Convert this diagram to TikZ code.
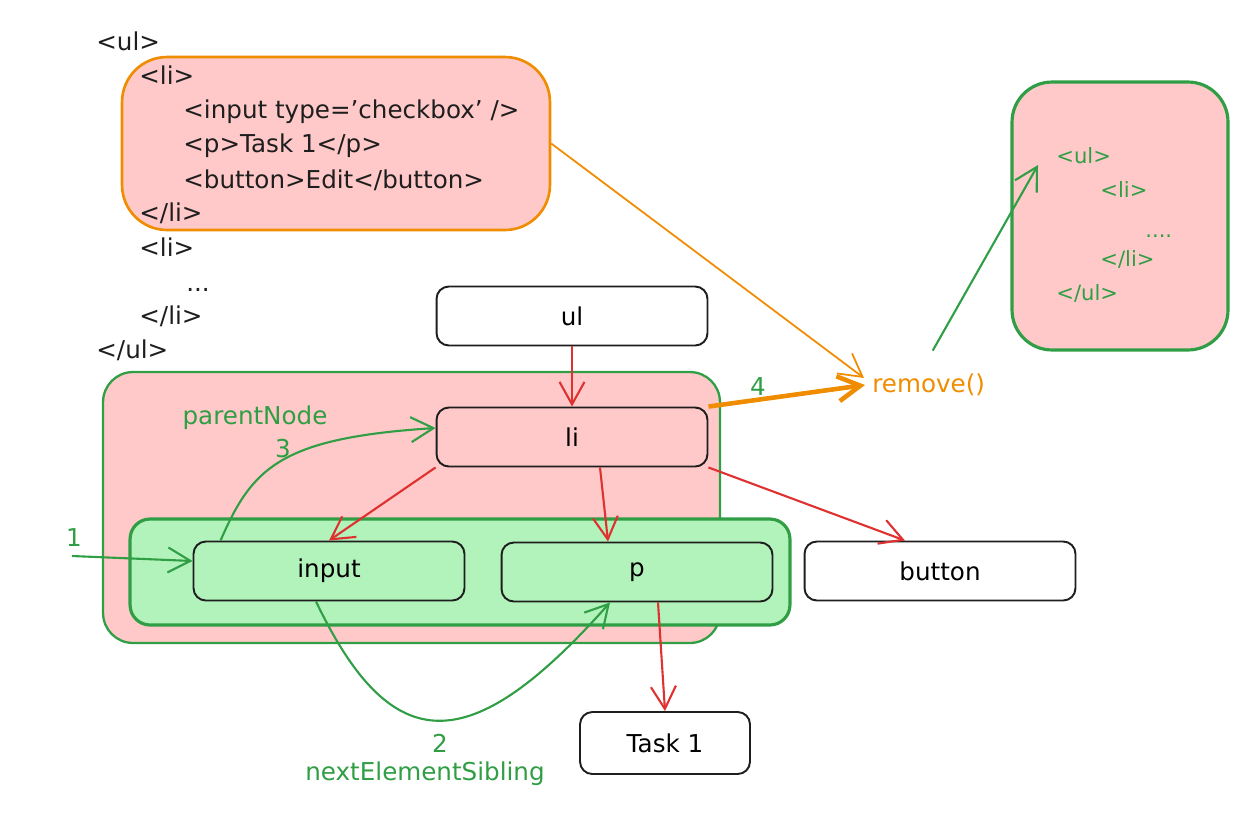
\documentclass[tikz,border=0pt]{standalone}
\usepackage{fontspec}
\setmainfont{DejaVu Sans}
\usetikzlibrary{arrows.meta}

\definecolor{ink}{HTML}{1E1E1E}
\definecolor{pinkfill}{HTML}{FFC9C9}
\definecolor{greenfill}{HTML}{B2F2BB}
\definecolor{grn}{HTML}{2F9E44}
\definecolor{orng}{HTML}{F08C00}
\definecolor{rd}{HTML}{E03131}

\begin{document}
\begin{tikzpicture}[x=0.02cm, y=-0.02cm,
	box/.style={draw=ink, line width=1.1pt, rounded corners=7pt, minimum width=5.42cm, minimum height=1.18cm, font=\fontsize{14}{17}\selectfont},
	code/.style={anchor=base west, inner sep=0pt, text=ink, font=\fontsize{14}{17}\selectfont},
	gcode/.style={anchor=base west, inner sep=0pt, text=grn, font=\fontsize{12}{14}\selectfont},
	glabel/.style={text=grn, inner sep=1pt, font=\fontsize{14}{17}\selectfont},
	tip/.style={-{Straight Barb[length=4.5mm,width=5mm]}},
	redarr/.style={tip, color=rd, line width=1.2pt},
	grarr/.style={tip, color=grn, line width=1.2pt},
	orarr/.style={tip, color=orng, line width=1pt}]
			\useasboundingbox (0,0) rectangle (1256,818);

			% boxes round the code and the groups
			\node[draw=orng, fill=pinkfill, line width=1.5pt, rounded corners=0.9cm, minimum width=8.56cm, minimum height=3.46cm] (codebox) at (336,143.5) {};
			\node[draw=grn, fill=pinkfill, line width=1.8pt, rounded corners=0.8cm, minimum width=4.32cm, minimum height=5.36cm] (resbox) at (1120,216) {};
			\node[draw=grn, fill=pinkfill, line width=1.3pt, rounded corners=0.6cm, minimum width=12.34cm, minimum height=5.42cm] (ligroup) at (411.5,507.5) {};
			\node[draw=grn, fill=greenfill, line width=1.8pt, rounded corners=0.4cm, minimum width=13.2cm, minimum height=2.12cm] (sibgroup) at (460,572) {};

			% html source
			\node[code] (c1) at (96,50) {<ul>};
			\node[code] (c2) at (139,84) {<li>};
			\node[code] (c3) at (183,118) {<input type='checkbox' />};
			\node[code] (c4) at (183,152) {<p>Task 1</p>};
			\node[code] (c5) at (183,188) {<button>Edit</button>};
			\node[code] (c6) at (139,221) {</li>};
			\node[code] (c7) at (139,256) {<li>};
			\node[code] (c8) at (186,291) {...};
			\node[code] (c9) at (139,324) {</li>};
			\node[code] (c10) at (96,358) {</ul>};

			% result
			\node[gcode] (r1) at (1056,163) {<ul>};
			\node[gcode] (r2) at (1100,197) {<li>};
			\node[gcode] (r3) at (1145,237) {....};
			\node[gcode] (r4) at (1100,266) {</li>};
			\node[gcode] (r5) at (1056,300) {</ul>};

			% dom tree
			\node[box, fill=white] (ul) at (572,316) {ul};
			\node[box, fill=pinkfill] (li) at (572,437) {li};
			\node[box, fill=greenfill] (input) at (329,571) {input};
			\node[box, fill=greenfill] (p) at (637,572) {p};
			\node[box, fill=white] (button) at (940,571) {button};
			\node[box, fill=white, minimum width=3.4cm, minimum height=1.24cm] (task) at (665,743) {Task 1};

			\node[anchor=west, inner sep=0pt, text=orng, font=\fontsize{14}{17}\selectfont] (remove) at (872,385) {remove()};
			\coordinate (start) at (72,556);

			\node[glabel] (one) at (74,538) {1};
			\node[glabel] (two) at (440,743) {2};
			\node[glabel] (sibling) at (425,774) {nextElementSibling};
			\node[glabel] (three) at (283,449) {3};
			\node[glabel] (parent) at (255,418) {parentNode};
			\node[glabel] (four) at (758,387) {4};

			\path[redarr]
			(ul) edge (li)
			(li.south west) edge (input.north)
			([shift={(28,0)}]li.south) edge ([shift={(-29,0)}]p.north)
			(li.south east) edge ([shift={(-35,0)}]button.north)
			([shift={(21,0)}]p.south) edge (task.north);

			\path[orarr]
			(codebox.east) edge ([shift={(-8,-7)}]remove.west);
			\path[orarr, line width=2.6pt]
			(li.north east) edge ([shift={(-7,0)}]remove.west);

			\path[grarr]
			(start) edge ([shift={(0,-10)}]input.west)
			([shift={(4,-23)}]remove.north) edge ([shift={(-18,2)}]r1.base west);
			\draw[grarr] ([shift={(28,0)}]input.north west) .. controls (252,468) and (280,438) .. ([shift={(0,-9)}]li.west);
			\draw[grarr] ([shift={(-13,0)}]input.south) .. controls (392,760) and (470,760) .. ([shift={(-27,0)}]p.south);
		\end{tikzpicture}
\end{document}
